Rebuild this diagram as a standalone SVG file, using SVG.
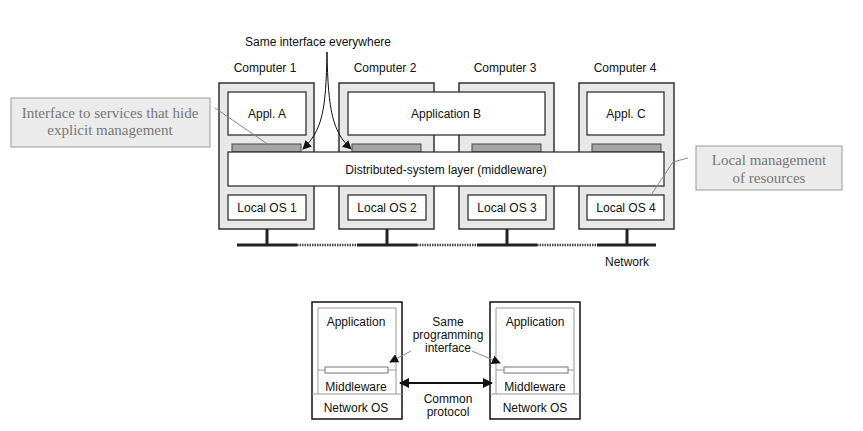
<svg xmlns="http://www.w3.org/2000/svg" width="863" height="431" viewBox="0 0 863 431">
<defs>
<style>
.t{font-family:"Liberation Sans",Arial,sans-serif;font-size:12px;fill:#111;text-anchor:middle}
.ts{font-family:"Liberation Sans",Arial,sans-serif;font-size:12px;fill:#111;text-anchor:middle}
.serif{font-family:"Liberation Serif","Times New Roman",serif;font-size:15px;fill:#777;text-anchor:middle}
.comp{fill:#e8e8e8;stroke:#333;stroke-width:1.5}
.inner{fill:#fff;stroke:#222;stroke-width:1.2}
.bar{fill:#a6a6a6;stroke:#444;stroke-width:1}
.callout{fill:#ebebeb;stroke:#999;stroke-width:1}
.leader{fill:none;stroke:#888;stroke-width:1}
.net{stroke:#222;stroke-width:3;fill:none}
.netd{stroke:#444;stroke-width:2.5;stroke-dasharray:1.5 1;fill:none}
.mach{fill:#fff;stroke:#111;stroke-width:1.5}
.thin{fill:none;stroke:#999;stroke-width:1}
</style>
<marker id="ah" viewBox="0 0 10 10" refX="9" refY="5" markerWidth="9" markerHeight="9" markerUnits="userSpaceOnUse" orient="auto">
<path d="M0,0 L10,5 L0,10 z" fill="#111"/>
</marker>
<marker id="ah2" viewBox="0 0 10 10" refX="9" refY="5" markerWidth="10" markerHeight="10" markerUnits="userSpaceOnUse" orient="auto-start-reverse">
<path d="M0,0 L10,5 L0,10 z" fill="#111"/>
</marker>
</defs>

<text class="t" x="318" y="46">Same interface everywhere</text>

<g id="computer1">
<text class="t" x="265" y="72">Computer 1</text>
<rect class="comp" x="219" y="83" width="95" height="146"/>
<rect class="inner" x="228" y="92" width="78" height="43"/>
<text class="t" x="267" y="118">Appl. A</text>
<rect class="bar" x="232" y="144" width="69" height="8"/>
<rect class="inner" x="228" y="195" width="78" height="25"/>
<text class="t" x="267" y="212">Local OS 1</text>
</g>

<g id="computer2">
<text class="t" x="385" y="72">Computer 2</text>
<rect class="comp" x="339" y="83" width="95" height="146"/>
<rect class="bar" x="352" y="144" width="69" height="8"/>
<rect class="inner" x="348" y="195" width="78" height="25"/>
<text class="t" x="387" y="212">Local OS 2</text>
</g>

<g id="computer3">
<text class="t" x="505" y="72">Computer 3</text>
<rect class="comp" x="459" y="83" width="95" height="146"/>
<rect class="bar" x="472" y="144" width="69" height="8"/>
<rect class="inner" x="468" y="195" width="78" height="25"/>
<text class="t" x="507" y="212">Local OS 3</text>
</g>

<g id="computer4">
<text class="t" x="625" y="72">Computer 4</text>
<rect class="comp" x="579" y="83" width="95" height="146"/>
<rect class="inner" x="587" y="92" width="77" height="43"/>
<text class="t" x="626" y="118">Appl. C</text>
<rect class="bar" x="592" y="144" width="69" height="8"/>
<rect class="inner" x="587" y="195" width="77" height="25"/>
<text class="t" x="626" y="212">Local OS 4</text>
</g>

<g id="applicationB">
<rect class="inner" x="348" y="92" width="197" height="43"/>
<text class="t" x="446" y="118">Application B</text>
</g>

<g id="middleware">
<rect class="inner" x="228" y="152" width="436" height="34"/>
<text class="t" x="446" y="174">Distributed-system layer (middleware)</text>
</g>

<g id="network">
<path class="net" d="M237,245 H297 M357,245 H417 M477,245 H537 M597,245 H656"/>
<path class="netd" d="M297,245 H357 M417,245 H477 M537,245 H597"/>
<path class="net" d="M267,229 V245 M387,229 V245 M507,229 V245 M627,229 V245"/>
<text class="t" x="627" y="266">Network</text>
</g>

<g id="callout-left">
<rect class="callout" x="11" y="98" width="199" height="49"/>
<text class="serif" x="110" y="118">Interface to services that hide</text>
<text class="serif" x="110" y="135">explicit management</text>
</g>

<g id="callout-right">
<rect class="callout" x="696" y="146" width="146" height="44"/>
<text class="serif" x="769" y="165">Local management</text>
<text class="serif" x="769" y="183">of resources</text>
</g>

<g id="machine-left">
<rect class="mach" x="312" y="302" width="90" height="117"/>
<path class="thin" d="M318,394 V308 H396 V394 M312,394 H402 M318,370 H325 M388,370 H396"/>
<rect x="325" y="367" width="63" height="6" fill="#fff" stroke="#777" stroke-width="1"/>
<text class="ts" x="356" y="326">Application</text>
<text class="ts" x="356" y="391">Middleware</text>
<text class="ts" x="356" y="412">Network OS</text>
</g>

<g id="machine-right">
<rect class="mach" x="490" y="302" width="90" height="117"/>
<path class="thin" d="M496,394 V308 H574 V394 M490,394 H580 M496,370 H504 M568,370 H574"/>
<rect x="504" y="367" width="64" height="6" fill="#fff" stroke="#777" stroke-width="1"/>
<text class="ts" x="535" y="326">Application</text>
<text class="ts" x="535" y="391">Middleware</text>
<text class="ts" x="535" y="412">Network OS</text>
</g>

<g id="labels-bottom">
<text class="ts" x="448" y="326">Same</text>
<text class="ts" x="448" y="339">programming</text>
<text class="ts" x="448" y="352">interface</text>
<text class="ts" x="448" y="403">Common</text>
<text class="ts" x="448" y="416">protocol</text>
</g>

<g id="connectors">
<path d="M327,52 C326,112 322,130 303,149" fill="none" stroke="#111" stroke-width="1" marker-end="url(#ah)"/>
<path d="M327,52 C328,112 333,132 351,149" fill="none" stroke="#111" stroke-width="1" marker-end="url(#ah)"/>
<path class="leader" d="M215,108 L269,145"/>
<path class="leader" d="M688,158 L673,162 L651,195"/>
<path d="M400,383 H492" fill="none" stroke="#111" stroke-width="2" marker-start="url(#ah2)" marker-end="url(#ah2)"/>
<path d="M411,351 L390,362" fill="none" stroke="#888" stroke-width="1" marker-end="url(#ah)"/>
<path d="M472,351 L500,363" fill="none" stroke="#888" stroke-width="1" marker-end="url(#ah)"/>
</g>
</svg>
